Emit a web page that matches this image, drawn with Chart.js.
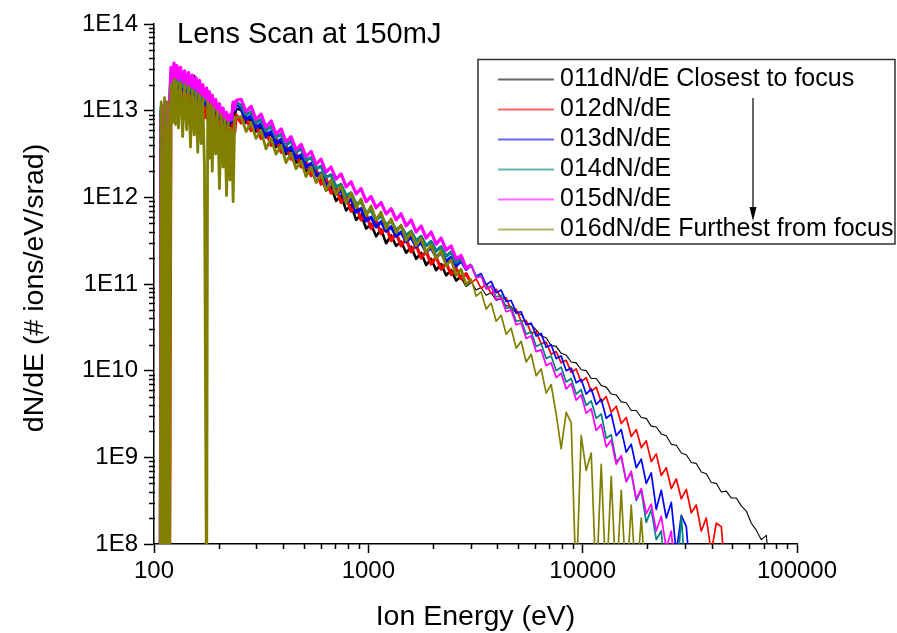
<!DOCTYPE html>
<html>
<head>
<meta charset="utf-8">
<script src="https://cdn.jsdelivr.net/npm/chart.js@4.4.0/dist/chart.umd.min.js"></script>
<style>
  html, body { margin: 0; padding: 0; background: #fff; }
  #wrap { width: 897px; height: 633px; }
</style>
</head>
<body>
<div id="wrap"><canvas id="chart" width="897" height="633"></canvas></div>
<script>
// Ion energy grid (eV), shared by all six scans
const energyEv = [
  107, 108, 110, 112, 114, 116, 118, 120, 122, 124, 126, 128, 130, 133, 136, 139, 142, 145, 148, 151,
  154, 157, 160, 163, 166, 169, 172, 176, 178, 181, 184, 187, 190, 194, 198, 202, 206, 210, 214, 218,
  222, 226, 230, 234, 238, 242,
  255, 269, 284, 299, 316, 333, 352, 371, 392, 413,
  436, 460, 486, 512, 541, 571, 602, 635, 670, 707,
  746, 788, 831, 877, 925, 977, 1030, 1087, 1147, 1211,
  1278, 1348, 1422, 1501, 1584, 1671, 1763, 1861, 1963, 2072,
  2186, 2307, 2434, 2569, 2710, 2860, 3018, 3184, 3360, 3546,
  3742, 3948, 4166, 4396, 4638, 4895, 5165, 5450, 5751, 6068,
  6403, 6757, 7129, 7523, 7938, 8377, 8839, 9327, 9842, 10385,
  10965, 11570, 12208, 12882, 13593, 14345, 15136, 15971, 16854, 17783,
  18767, 19802, 20893, 22050, 23264, 24554, 25910, 27340, 28850, 30440,
  32125, 33891, 35760, 37740, 39820, 42020, 44340, 46780, 49370, 52100,
  54970, 58000, 61200, 64590, 68150, 71930, 75890
];

// log10(dN/dE), one array per scan
const lg011 = [
  7.0, 13.0, 12.9, 13.05, 12.95, 13.0, 12.9, 13.4, 13.3, 13.45, 13.3, 13.42, 13.28, 13.4, 13.26, 13.38, 13.24, 13.36, 13.22, 13.34,
  13.4, 13.2, 13.3, 13.15, 13.26, 13.12, 13.22, 13.08, 13.18, 13.04, 13.14, 13.0, 13.1, 12.96, 13.05, 12.92, 13.0, 12.88, 12.95, 12.85,
  12.9, 12.82, 12.85, 13.0, 12.95, 13.02,
  13.01, 12.86, 12.91, 12.76, 12.82, 12.69, 12.73, 12.58, 12.64, 12.50,
  12.55, 12.40, 12.45, 12.30, 12.34, 12.18, 12.24, 12.08, 12.12, 11.96,
  12.02, 11.85, 11.91, 11.74, 11.80, 11.64, 11.69, 11.55, 11.63, 11.47,
  11.56, 11.44, 11.49, 11.36, 11.43, 11.29, 11.36, 11.22, 11.29, 11.16,
  11.23, 11.10, 11.16, 11.04, 11.09, 10.98, 11.03, 10.93, 10.96, 10.87,
  10.90, 10.81, 10.83, 10.75, 10.74, 10.66, 10.65, 10.55, 10.53, 10.47,
  10.40, 10.38, 10.29, 10.28, 10.20, 10.18, 10.10, 10.09, 10.01, 10.00,
  9.91, 9.91, 9.83, 9.81, 9.73, 9.72, 9.64, 9.63, 9.54, 9.54,
  9.46, 9.45, 9.36, 9.35, 9.27, 9.25, 9.15, 9.14, 9.05, 9.03,
  8.94, 8.93, 8.83, 8.81, 8.71, 8.70, 8.60, 8.61, 8.53, 8.53,
  8.44, 8.38, 8.24, 8.16, 8.05, 8.10, 7.50
];
const lg012 = [
  7.0, 12.95, 13.03, 12.85, 12.95, 12.8, 7.0, 13.3, 13.15, 13.35, 12.99, 13.3, 13.1, 13.28, 13.08, 13.26, 13.05, 13.24, 13.02, 13.2,
  13.0, 13.16, 12.98, 13.13, 12.95, 13.1, 12.92, 13.06, 12.9, 13.02, 12.86, 12.98, 12.83, 12.94, 12.8, 12.9, 12.77, 12.86, 12.74, 12.82,
  12.72, 12.78, 12.7, 12.9, 12.75, 12.95,
  12.86, 12.92, 12.77, 12.84, 12.68, 12.76, 12.60, 12.68, 12.52, 12.59,
  12.44, 12.51, 12.35, 12.42, 12.25, 12.32, 12.15, 12.22, 12.05, 12.12,
  11.94, 12.01, 11.84, 11.91, 11.74, 11.81, 11.64, 11.73, 11.58, 11.66,
  11.50, 11.59, 11.44, 11.52, 11.37, 11.45, 11.30, 11.38, 11.23, 11.31,
  11.17, 11.24, 11.11, 11.18, 11.06, 11.12, 11.01, 11.06, 10.95, 11.00,
  10.89, 10.94, 10.83, 10.84, 10.70, 10.71, 10.57, 10.58, 10.43, 10.45,
  10.31, 10.33, 10.19, 10.22, 10.09, 10.12, 9.98, 10.02, 9.87, 9.92,
  9.76, 9.81, 9.64, 9.70, 9.52, 9.59, 9.39, 9.46, 9.24, 9.32,
  9.11, 9.19, 8.95, 9.04, 8.79, 8.88, 8.64, 8.75, 8.52, 8.63,
  8.36, 8.45, 8.15, 8.30, 7.90, 8.24, 8.20, 7.50
];
const lg013 = [
  7.0, 13.0, 12.88, 13.02, 12.9, 13.05, 12.92, 13.42, 13.28, 13.44, 13.3, 13.4, 13.26, 13.38, 13.24, 13.36, 13.22, 13.33, 13.2, 13.3,
  13.17, 13.27, 13.14, 13.24, 13.1, 13.2, 13.07, 13.17, 13.04, 13.14, 13.01, 13.1, 12.98, 13.06, 12.94, 13.02, 12.9, 12.98, 12.86, 12.94,
  12.84, 12.9, 12.87, 13.06, 13.0, 13.08,
  13.03, 12.90, 12.94, 12.80, 12.85, 12.71, 12.76, 12.62, 12.67, 12.53,
  12.58, 12.45, 12.49, 12.35, 12.39, 12.25, 12.28, 12.14, 12.18, 12.04,
  12.08, 11.94, 11.98, 11.83, 11.87, 11.73, 11.77, 11.66, 11.72, 11.61,
  11.66, 11.55, 11.60, 11.49, 11.54, 11.43, 11.48, 11.37, 11.42, 11.31,
  11.36, 11.26, 11.31, 11.21, 11.27, 11.17, 11.22, 11.09, 11.12, 10.99,
  11.03, 10.90, 10.93, 10.80, 10.81, 10.67, 10.68, 10.53, 10.55, 10.40,
  10.43, 10.27, 10.30, 10.14, 10.17, 10.00, 10.03, 9.86, 9.90, 9.73,
  9.79, 9.61, 9.67, 9.45, 9.50, 9.25, 9.32, 9.06, 9.15, 8.88,
  8.98, 8.70, 8.82, 8.40, 8.62, 8.30, 8.48, 7.90, 8.33, 8.20, 7.50
];
const lg014 = [
  7.0, 13.05, 12.92, 13.08, 12.95, 13.06, 12.97, 13.45, 13.32, 13.47, 13.33, 13.44, 13.3, 13.42, 13.28, 13.4, 13.26, 13.37, 13.24, 13.34,
  13.21, 13.31, 13.18, 13.28, 13.15, 13.25, 13.12, 13.21, 13.08, 13.18, 13.05, 13.14, 13.02, 13.1, 12.97, 13.06, 12.93, 13.01, 12.9, 12.97,
  12.87, 12.93, 12.89, 13.08, 13.02, 13.1,
  13.06, 12.95, 12.99, 12.86, 12.90, 12.77, 12.82, 12.69, 12.73, 12.60,
  12.65, 12.52, 12.56, 12.43, 12.46, 12.33, 12.36, 12.23, 12.26, 12.12,
  12.15, 12.02, 12.05, 11.92, 11.95, 11.82, 11.85, 11.74, 11.79, 11.68,
  11.73, 11.62, 11.67, 11.56, 11.61, 11.50, 11.55, 11.44, 11.49, 11.38,
  11.43, 11.32, 11.37, 11.25, 11.29, 11.18, 11.22, 11.08, 11.10, 10.96,
  10.98, 10.85, 10.87, 10.72, 10.73, 10.57, 10.58, 10.42, 10.45, 10.28,
  10.31, 10.14, 10.17, 10.00, 10.04, 9.87, 9.91, 9.73, 9.78, 9.60,
  9.65, 9.45, 9.50, 9.22, 9.26, 8.95, 9.00, 8.72, 8.82, 8.50,
  8.62, 8.25, 8.40, 8.05, 8.15, 7.50, 7.50, 7.50, 8.32, 7.50
];
const lg015 = [
  7.0, 12.9, 13.05, 12.8, 13.1, 12.85, 13.0, 13.5, 13.35, 13.55, 13.38, 13.52, 13.36, 13.5, 13.33, 13.46, 13.3, 13.44, 13.28, 13.41,
  13.25, 13.38, 13.22, 13.35, 13.18, 13.3, 13.15, 13.26, 13.1, 13.22, 13.06, 13.18, 13.03, 13.13, 12.98, 13.08, 12.93, 13.03, 12.9, 12.98,
  12.88, 12.95, 12.9, 13.1, 13.02, 13.12,
  13.13, 12.99, 13.05, 12.90, 12.96, 12.81, 12.88, 12.73, 12.79, 12.64,
  12.70, 12.55, 12.61, 12.47, 12.53, 12.38, 12.44, 12.29, 12.35, 12.21,
  12.27, 12.12, 12.18, 12.04, 12.10, 11.95, 12.01, 11.88, 11.94, 11.81,
  11.87, 11.74, 11.81, 11.67, 11.74, 11.60, 11.67, 11.53, 11.60, 11.46,
  11.53, 11.39, 11.44, 11.29, 11.33, 11.18, 11.22, 11.07, 11.09, 10.94,
  10.97, 10.82, 10.84, 10.68, 10.70, 10.53, 10.55, 10.37, 10.40, 10.22,
  10.24, 10.06, 10.09, 9.92, 9.97, 9.79, 9.85, 9.66, 9.72, 9.51,
  9.56, 9.31, 9.38, 9.12, 9.20, 8.92, 9.02, 8.72, 8.84, 8.52,
  8.64, 8.35, 8.46, 8.15, 8.32, 7.95, 8.15, 7.50
];
const lg016 = [
  7.0, 13.1, 7.0, 13.15, 7.0, 13.1, 7.0, 13.3, 12.86, 13.36, 12.84, 13.33, 12.8, 13.32, 12.7, 13.3, 12.78, 13.27, 12.58, 13.24,
  12.72, 13.2, 12.52, 13.18, 12.62, 13.14, 12.35, 7.0, 13.1, 12.45, 13.07, 12.3, 13.03, 12.5, 12.99, 12.1, 12.95, 12.35, 12.9, 12.02,
  12.86, 12.2, 12.78, 11.95, 12.9, 12.92,
  12.93, 12.76, 12.86, 12.68, 12.77, 12.56, 12.68, 12.50, 12.60, 12.40,
  12.51, 12.33, 12.42, 12.24, 12.35, 12.17, 12.27, 12.08, 12.20, 12.03,
  12.13, 11.93, 12.05, 11.88, 11.98, 11.79, 11.90, 11.74, 11.83, 11.64,
  11.75, 11.59, 11.68, 11.50, 11.60, 11.44, 11.53, 11.36, 11.45, 11.29,
  11.38, 11.21, 11.28, 11.10, 11.17, 10.99, 11.06, 10.86, 10.91, 10.71,
  10.78, 10.57, 10.64, 10.42, 10.49, 10.26, 10.34, 10.10, 10.19, 9.94,
  10.02, 9.74, 9.84, 9.50, 9.10, 9.52, 9.40, 7.50, 9.25, 8.85,
  9.05, 7.50, 8.92, 7.50, 8.78, 7.50, 8.62, 7.50, 8.45, 7.50, 8.30, 7.50
];

const seriesLabels = [
  "011dN/dE Closest to focus", "012dN/dE", "013dN/dE", "014dN/dE", "015dN/dE", "016dN/dE Furthest from focus"
];
const seriesColors = ["#000000", "#ff0000", "#0000ff", "#008080", "#ff00ff", "#808000"];
const seriesValues = [lg011, lg012, lg013, lg014, lg015, lg016];

const xTickValues = [100, 1000, 10000, 100000];
const xTickLabels = ["100", "1000", "10000", "100000"];
const yTickValues = [1e8, 1e9, 1e10, 1e11, 1e12, 1e13, 1e14];
const yTickLabels = ["1E8", "1E9", "1E10", "1E11", "1E12", "1E13", "1E14"];

const FONT = "'Liberation Sans', Arial, sans-serif";
Chart.defaults.font.family = FONT;
Chart.defaults.color = "#000";

// line weight: the dense low-energy part of each trace looks heavier
const denseWidth = [2.6, 3.2, 3.2, 3.2, 3.2, 2.8];
const tailWidth = [1.1, 1.7, 1.7, 1.7, 1.7, 1.7];

// minor ticks 2..9 inside each decade
const minorTicks = {
  id: "minorTicks",
  afterDraw(chart) {
    const { ctx, scales: { x, y }, chartArea: a } = chart;
    ctx.save();
    ctx.strokeStyle = "#000";
    ctx.lineWidth = 1.5;
    ctx.beginPath();
    for (let i = 0; i < xTickValues.length - 1; i++) {
      for (let m = 2; m < 10; m++) {
        const px = Math.round(x.getPixelForValue(xTickValues[i] * m)) + 0.5;
        ctx.moveTo(px, a.bottom);
        ctx.lineTo(px, a.bottom + 5);
      }
    }
    for (let i = 0; i < yTickValues.length - 1; i++) {
      for (let m = 2; m < 10; m++) {
        const py = Math.round(y.getPixelForValue(yTickValues[i] * m)) + 0.5;
        ctx.moveTo(a.left - 5, py);
        ctx.lineTo(a.left + 1, py);
      }
    }
    ctx.stroke();
    ctx.restore();
  }
};

// axis titles, in-plot title, boxed legend and the focus arrow
const decorations = {
  id: "decorations",
  afterDraw(chart) {
    const { ctx, chartArea: a } = chart;
    ctx.save();
    ctx.fillStyle = "#000";
    ctx.textBaseline = "alphabetic";

    ctx.font = "28.5px " + FONT;
    ctx.textAlign = "center";
    ctx.fillText("Ion Energy (eV)", (a.left + a.right) / 2, 625);
    ctx.save();
    ctx.translate(43, 288);
    ctx.rotate(-Math.PI / 2);
    ctx.fillText("dN/dE (# ions/eV/srad)", 0, 0);
    ctx.restore();

    ctx.textAlign = "left";
    ctx.font = "29px " + FONT;
    ctx.fillText("Lens Scan at 150mJ", 177, 43);

    ctx.fillStyle = "#fff";
    ctx.fillRect(478, 59.5, 417, 184.5);
    ctx.strokeStyle = "#333";
    ctx.lineWidth = 1.5;
    ctx.strokeRect(478, 59.5, 417, 184.5);

    ctx.font = "25px " + FONT;
    ctx.textBaseline = "middle";
    chart.data.datasets.forEach((ds, i) => {
      const yy = 79.5 + 30 * i;
      ctx.save();
      ctx.globalAlpha = 0.6;
      ctx.strokeStyle = ds.borderColor;
      ctx.lineWidth = 2;
      ctx.beginPath();
      ctx.moveTo(498, yy);
      ctx.lineTo(554, yy);
      ctx.stroke();
      ctx.restore();
      ctx.fillStyle = "#000";
      ctx.fillText(ds.label, 560, yy - 0.5);
    });

    ctx.strokeStyle = "#000";
    ctx.lineWidth = 1.2;
    ctx.beginPath();
    ctx.moveTo(753, 98);
    ctx.lineTo(753, 210);
    ctx.stroke();
    ctx.beginPath();
    ctx.moveTo(749.5, 207);
    ctx.lineTo(756.5, 207);
    ctx.lineTo(753, 221);
    ctx.closePath();
    ctx.fill();
    ctx.restore();
  }
};

new Chart(document.getElementById("chart"), {
  type: "scatter",
  data: {
    datasets: seriesValues.map((vals, i) => ({
      label: seriesLabels[i],
      data: vals.map((v, j) => ({ x: energyEv[j], y: Math.pow(10, v) })),
      borderColor: seriesColors[i],
      backgroundColor: seriesColors[i],
      borderWidth: tailWidth[i],
      borderJoinStyle: "round",
      segment: {
        borderWidth: c => (c.p0.parsed.x < 3000 ? denseWidth[i] : tailWidth[i])
      },
      showLine: true,
      pointRadius: 0,
      pointHoverRadius: 0,
      tension: 0,
      fill: false,
      clip: 0,
      order: 6 - i
    }))
  },
  options: {
    responsive: false,
    animation: false,
    events: [],
    layout: { padding: { left: 0, right: 100, top: 24, bottom: 0 } },
    plugins: { legend: { display: false }, tooltip: { enabled: false } },
    scales: {
      x: {
        type: "logarithmic",
        min: 100,
        max: 100000,
        afterBuildTicks: s => { s.ticks = xTickValues.map(v => ({ value: v })); },
        afterFit: s => { s.height = 89; },
        grid: { drawOnChartArea: false, tickLength: 9, tickWidth: 1.5, tickColor: "#000" },
        border: { color: "#000", width: 1.5 },
        ticks: {
          autoSkip: false, maxRotation: 0, padding: 4, color: "#000",
          font: { size: 24 },
          callback: (v, i) => xTickLabels[i]
        },
        title: { display: false }
      },
      y: {
        type: "logarithmic",
        min: 1e8,
        max: 1e14,
        afterBuildTicks: s => { s.ticks = yTickValues.map(v => ({ value: v })); },
        afterFit: s => { s.width = 154; },
        grid: { drawOnChartArea: false, tickLength: 10, tickWidth: 1.5, tickColor: "#000" },
        border: { color: "#000", width: 1.5 },
        ticks: {
          autoSkip: false, padding: 6, color: "#000",
          font: { size: 24 },
          callback: (v, i) => yTickLabels[i]
        },
        title: { display: false }
      }
    }
  },
  plugins: [minorTicks, decorations]
});
</script>
</body>
</html>
